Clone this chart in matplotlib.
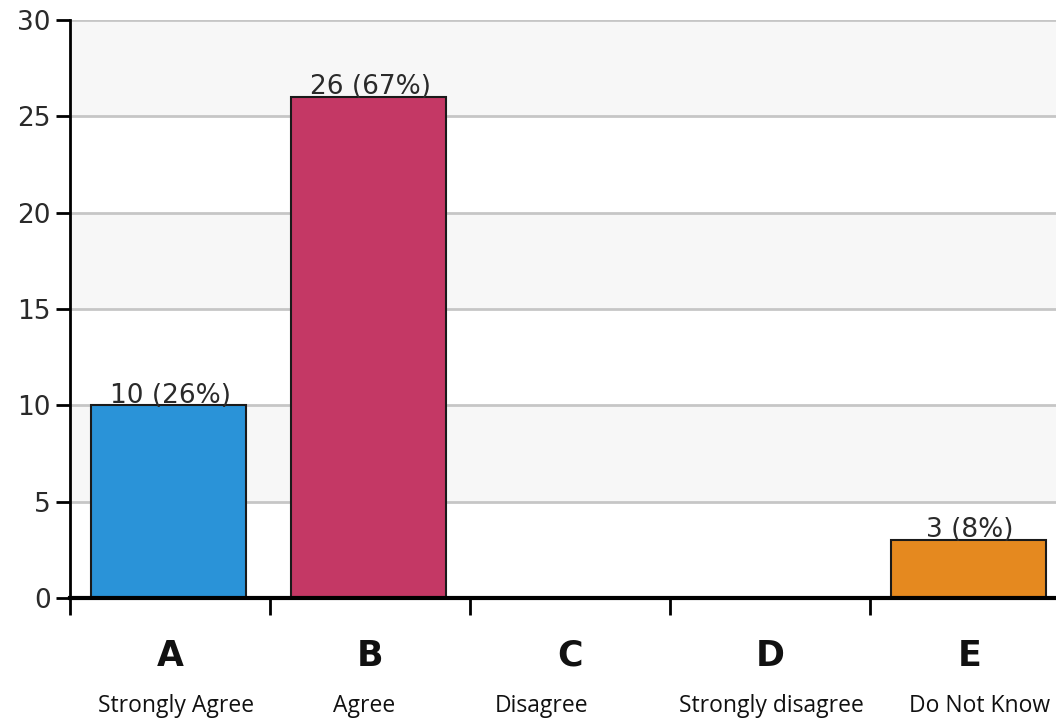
import matplotlib
matplotlib.use("Agg")
import matplotlib.pyplot as plt

letters = ["A", "B", "C", "D", "E"]
descriptions = ["Strongly Agree", "Agree", "Disagree", "Strongly disagree", "Do Not Know"]
counts = [10, 26, 0, 0, 3]
percents = [26, 67, 0, 0, 8]
colors = ["#2a93d8", "#c43865", "#888888", "#888888", "#e5891f"]
yticks = [0, 5, 10, 15, 20, 25, 30]
desc_offsets = [0.03, -0.03, -0.14, 0.005, 0.05]

W, H = 1056, 718
fig = plt.figure(figsize=(W / 100, H / 100), dpi=100)
left, right, top, bottom = 70, 1070, 20, 598
ax = fig.add_axes([left / W, (H - bottom) / H, (right - left) / W, (bottom - top) / H])

ax.set_xlim(-0.5, len(letters) - 0.5)
ax.set_ylim(0, 30)

# alternating bands
for i in range(len(yticks) - 1):
    if i % 2 == 1:
        ax.axhspan(yticks[i], yticks[i + 1], color="#f7f7f7", zorder=0, lw=0)
for y in yticks[1:]:
    ax.axhline(y, color="#c6c6c6", lw=2, zorder=1)

x = list(range(len(letters)))
for xi, c, col, p in zip(x, counts, colors, percents):
    if c > 0:
        ax.bar(xi - 0.008, c, width=0.775, color=col, edgecolor="#1a1a1a", lw=1.5, zorder=2)
        ax.annotate(f"{c} ({p}%)", (xi, c), xytext=(0, 2), textcoords="offset points",
                    ha="center", va="baseline", fontsize=19, color="#2a2a2a",
                    fontfamily="DejaVu Sans", zorder=3)

for s in ["top", "right"]:
    ax.spines[s].set_visible(False)
ax.spines["left"].set_linewidth(2)
ax.spines["bottom"].set_linewidth(3)
ax.spines["left"].set_zorder(4)
ax.spines["bottom"].set_zorder(4)

ax.set_yticks(yticks)
ax.set_yticklabels([str(v) for v in yticks], fontsize=19, color="#2a2a2a")
ax.tick_params(axis="y", length=10, width=2, pad=4, direction="out")
ax.set_xticks([i - 0.5 for i in range(len(letters))])
ax.set_xticklabels([])
ax.tick_params(axis="x", length=12, width=2, direction="out")

trans = ax.get_xaxis_transform()
ah = bottom - top
for xi, L, d, off in zip(x, letters, descriptions, desc_offsets):
    ax.text(xi, -(666 - bottom) / ah, L, transform=trans, ha="center", va="baseline",
            fontsize=25, fontweight="bold", color="#111111", fontfamily="DejaVu Sans")
    ax.text(xi + off, -(712 - bottom) / ah, d, transform=trans, ha="center", va="baseline",
            fontsize=16.5, color="#111111", fontfamily="Open Sans")

fig.savefig("out.png", dpi=100)
